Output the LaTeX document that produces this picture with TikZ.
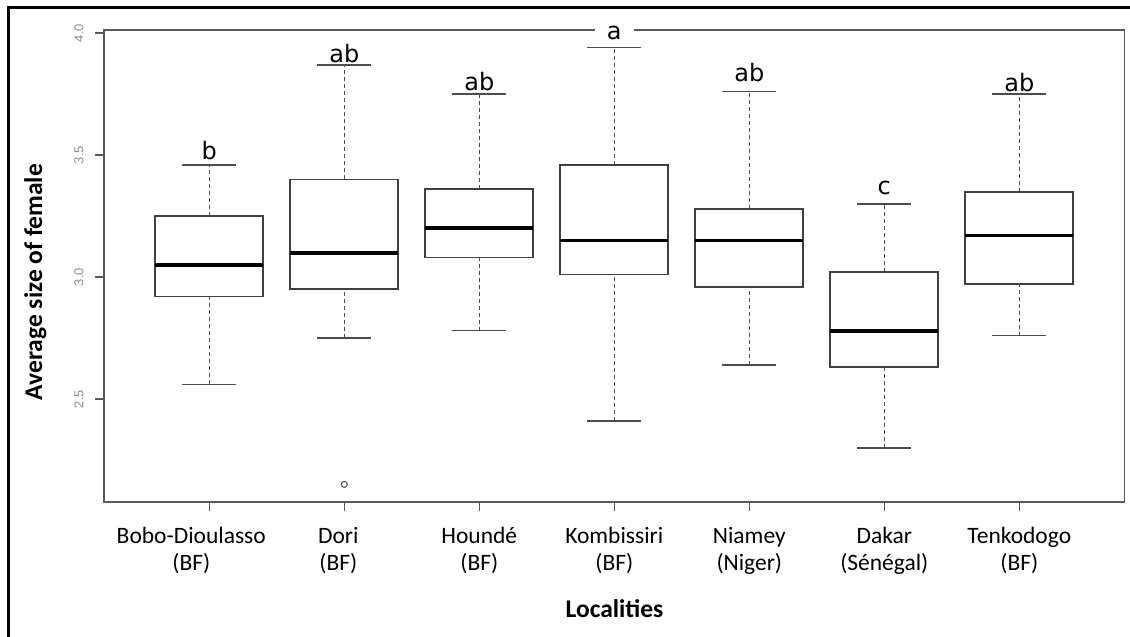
\documentclass[tikz,border=0pt]{standalone}
\usepackage{fontspec}
\usepackage{tikz}
\newfontfamily\calib{Carlito}
\newfontfamily\letsans{DejaVu Sans}
\newfontfamily\ticksans{Liberation Sans}

\begin{document}
\begin{tikzpicture}[
  font=\calib,
  frame/.style={line width=2.7pt, draw=black},
  axis/.style={line width=1.4pt, draw=black!65},
  boxline/.style={line width=1.8pt, draw=black!75},
  median/.style={line width=3.8pt, draw=black},
  whisker/.style={line width=1.4pt, draw=black!70, dash pattern=on 4pt off 3pt},
  capline/.style={line width=1.6pt, draw=black!70},
  ytick/.style={font=\ticksans\fontsize{13}{15}\selectfont, text=black!45,
                rotate=90, inner sep=0pt},
  xlab/.style={font=\calib\fontsize{23.5}{27}\selectfont, align=center,
               anchor=north, inner sep=0pt},
  title/.style={font=\calib\bfseries\fontsize{25.5}{30}\selectfont,
                anchor=base, inner sep=0pt},
  sig/.style={font=\letsans\fontsize{24}{28}\selectfont, inner sep=0pt}]
  \useasboundingbox (0pt,0pt) rectangle (1130pt,-637pt);
  \draw[frame] (8.7pt,-637pt) -- (8.7pt,-7.2pt) -- (1130pt,-7.2pt);
  \begin{scope}[x=135pt, y=244pt, shift={(74.3pt,-1009pt)}]
    \draw[axis] (0.22,2.078) rectangle (7.78,4.012);
    \foreach \v/\n in {2.5/1,3.0/2,3.5/3,4.0/4} {
      \draw[axis] (0.22,\v) -- ++(-9pt,0);
      \node[ytick] (ytk\n) at ([xshift=-25pt]0.22,\v) {\v};
    }
    \foreach \i/\lo/\qa/\md/\qb/\hi in {1/2.56/2.92/3.05/3.25/3.46,
        2/2.75/2.95/3.10/3.40/3.87, 3/2.78/3.08/3.20/3.36/3.75,
        4/2.41/3.01/3.15/3.46/3.94, 5/2.64/2.96/3.15/3.28/3.76,
        6/2.30/2.63/2.78/3.02/3.30, 7/2.76/2.97/3.17/3.35/3.75} {
      \draw[whisker] (\i,\lo) -- (\i,\qa);
      \draw[whisker] (\i,\qb) -- (\i,\hi);
      \draw[capline] (\i-0.2,\lo) -- (\i+0.2,\lo);
      \draw[capline] (\i-0.2,\hi) -- (\i+0.2,\hi);
      \draw[boxline] (\i-0.4,\qa) rectangle (\i+0.4,\qb);
      \draw[median] (\i-0.4,\md) -- (\i+0.4,\md);
      \draw[axis] (\i,2.078) -- ++(0,-9pt);
    }
    \draw[capline, line width=1pt] (2,2.15) circle (3pt);
    \foreach \i/\dx/\town/\land in {1/-18/Bobo-Dioulasso/(BF), 2/-6/Dori/(BF),
        3/0/Houndé/(BF), 4/0/Kombissiri/(BF), 5/0/Niamey/(Niger),
        6/0/Dakar/(Sénégal), 7/0/Tenkodogo/(BF)}
      \node[xlab] (loc\i) at ([xshift=\dx pt]\i,1.987) {\strut\town\\\land};
    \node[sig] (sig1) at (1,3.520) {b};
    \node[sig] (sig2) at (2,3.914) {ab};
    \node[sig] (sig3) at (3,3.799) {ab};
    \node[sig, fill=white, inner xsep=12pt, inner ysep=1pt] (sig4) at (4,4.0) {a};
    \node[sig] (sig5) at (5,3.836) {ab};
    \node[sig] (sig6) at (6,3.365) {c};
    \node[sig] (sig7) at (7,3.795) {ab};
  \end{scope}
  \node[title] (xtitle) at (614.5pt,-617.5pt) {Localities};
  \node[title, rotate=90] (ytitle) at (42pt,-282pt) {Average size of female};
\end{tikzpicture}
\end{document}
